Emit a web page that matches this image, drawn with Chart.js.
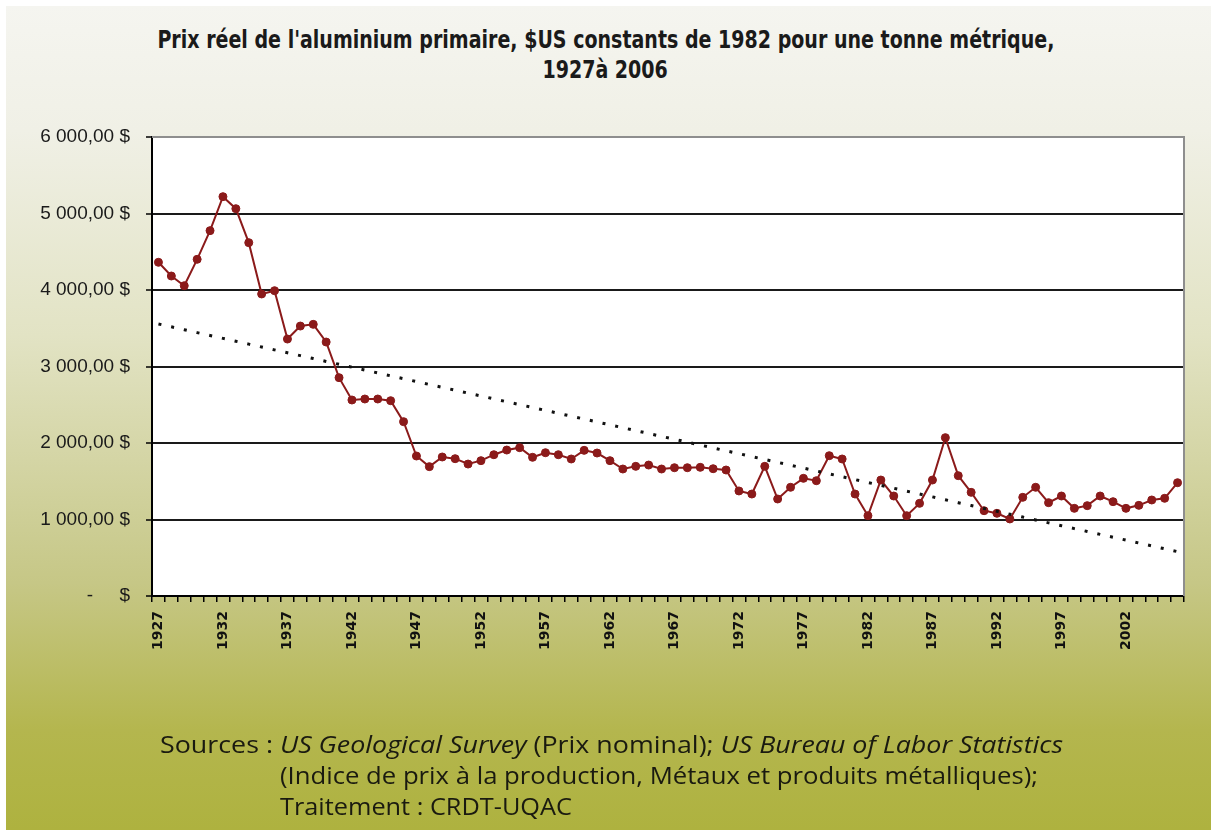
<!DOCTYPE html>
<html>
<head>
<meta charset="utf-8">
<script src="https://cdn.jsdelivr.net/npm/chart.js@4.4.1/dist/chart.umd.min.js"></script>
<style>
  html, body { margin: 0; padding: 0; background: #ffffff; }
  #wrap { position: relative; width: 1211px; height: 830px; overflow: hidden; }
  #bg { position: absolute; left: 6px; top: 6px; width: 1205px; height: 824px;
        background: linear-gradient(to bottom, #f5f5f0 0%, #f0f0e6 15%, #e2e3c4 40%, #c6c786 70%, #b4b64e 88%, #aeb23f 100%); }
  canvas#c { position: absolute; left: 0; top: 0; }
  .title { position: absolute; left: 0; width: 1211px; text-align: center;
           font-family: "Liberation Sans Narrow", "DejaVu Sans Condensed", "Liberation Sans", sans-serif;
           font-weight: bold; font-size: 24px; color: #1a1a1a; line-height: 28px; white-space: nowrap; }
  .title span { display: inline-block; transform-origin: center; }
  .src { position: absolute; font-family: "Open Sans", "Noto Sans", sans-serif; font-size: 23px;
         color: #1a1a10; line-height: 26px; white-space: nowrap; transform-origin: left center; }
</style>
</head>
<body>
<div id="wrap">
  <div id="bg"></div>
  <div class="title" style="top:26px"><span id="t1">Prix réel de l'aluminium primaire, $US constants de 1982 pour une tonne métrique,</span></div>
  <div class="title" style="top:56px"><span id="t2">1927à 2006</span></div>
  <canvas id="c" width="1211" height="830"></canvas>
  <div class="src" id="s1" style="left:160px; top:731px">Sources : <i>US Geological Survey</i> (Prix nominal); <i>US Bureau of Labor Statistics</i></div>
  <div class="src" id="s2" style="left:280px; top:762px">(Indice de prix à la production, Métaux et produits métalliques);</div>
  <div class="src" id="s3" style="left:280px; top:793px">Traitement : CRDT-UQAC</div>
</div>
<script>
// ---- Data ----
const years = [];
for (let y = 1927; y <= 2006; y++) years.push(String(y));

const prices = [
  4362, 4183, 4056, 4401, 4776, 5220, 5063, 4619, 3948, 3991,
  3359, 3529, 3551, 3320, 2854, 2562, 2575, 2575, 2553, 2279,
  1830, 1691, 1817, 1795, 1725, 1769, 1847, 1908, 1939, 1813,
  1873, 1847, 1791, 1904, 1869, 1769, 1660, 1695, 1712, 1660,
  1677, 1677, 1682, 1664, 1647, 1373, 1333, 1695, 1268, 1421,
  1538, 1507, 1834, 1791, 1333, 1050, 1516, 1307, 1050, 1211,
  1516, 2070, 1573, 1355, 1115, 1081, 1007, 1290, 1421, 1220,
  1307, 1146, 1181, 1307, 1233, 1146, 1185, 1255, 1277, 1481
];

const yTicks = [0, 1000, 2000, 3000, 4000, 5000, 6000];
const yTickLabels = ['-     $', '1 000,00 $', '2 000,00 $', '3 000,00 $', '4 000,00 $', '5 000,00 $', '6 000,00 $'];
const labelEvery = 5;

// Linear trend line (least squares over the series, like the spreadsheet trendline)
const n = prices.length;
let sx = 0, sy = 0, sxy = 0, sxx = 0;
prices.forEach((v, i) => { sx += i; sy += v; sxy += i * v; sxx += i * i; });
const slope = (n * sxy - sx * sy) / (n * sxx - sx * sx);
const intercept = (sy - slope * sx) / n;
const trend = prices.map((_, i) => intercept + slope * i);

// ---- Text fitting ----
function fitTo(id, target) {
  const el = document.getElementById(id);
  const w = el.getBoundingClientRect().width;
  return target / w;
}
const k1 = fitTo('t1', 897);
document.getElementById('t1').style.transform = 'scaleX(' + k1 + ')';
document.getElementById('t2').style.transform = 'scaleX(' + k1 + ')';
[['s1', 903], ['s2', 758], ['s3', 292]].forEach(([id, w]) => {
  const k = fitTo(id, w);
  document.getElementById(id).style.transform = 'scaleX(' + k + ')';
});

// ---- Plugin: white plot area + gray frame ----
const frame = {
  id: 'frame',
  beforeDraw(chart) {
    const a = chart.chartArea, ctx = chart.ctx;
    ctx.save();
    ctx.fillStyle = '#ffffff';
    ctx.fillRect(a.left, a.top, a.right - a.left, a.bottom - a.top);
    ctx.restore();
  },
  beforeDatasetsDraw(chart) {
    const a = chart.chartArea, ctx = chart.ctx;
    ctx.save();
    ctx.strokeStyle = '#8e8e8e';
    ctx.lineWidth = 2;
    ctx.beginPath();
    ctx.moveTo(a.left, a.top);
    ctx.lineTo(a.right, a.top);
    ctx.lineTo(a.right, a.bottom);
    ctx.stroke();
    ctx.restore();
  }
};

new Chart(document.getElementById('c'), {
  type: 'line',
  data: {
    labels: years,
    datasets: [
      {
        label: 'Tendance',
        data: trend,
        borderColor: '#111111',
        borderWidth: 3,
        borderDash: [3, 10],
        pointRadius: 0,
        fill: false,
        tension: 0
      },
      {
        label: 'Prix réel',
        data: prices,
        borderColor: '#8b1a1a',
        backgroundColor: '#8b1a1a',
        borderWidth: 2,
        pointRadius: 4,
        pointBackgroundColor: '#8b1a1a',
        pointBorderColor: '#8b1a1a',
        pointBorderWidth: 1,
        fill: false,
        tension: 0
      }
    ]
  },
  options: {
    responsive: false,
    animation: false,
    layout: { padding: { left: 0, top: 137, right: 27, bottom: 0 } },
    plugins: { legend: { display: false }, title: { display: false }, tooltip: { enabled: false } },
    scales: {
      x: {
        type: 'category',
        offset: true,
        afterFit(s) { s.height = 234; },
        grid: { offset: true, drawOnChartArea: false, tickLength: 6, color: '#000000', lineWidth: 1.5 },
        border: { display: true, color: '#000000', width: 2 },
        ticks: {
          autoSkip: false, maxRotation: 90, minRotation: 90, padding: 9,
          color: '#111111',
          font: { family: 'DejaVu Sans', weight: 'bold', size: 14 },
          callback: (v, i) => (i % labelEvery === 0 ? years[i] : '')
        }
      },
      y: {
        min: 0, max: 6000,
        afterFit(s) { s.width = 152; },
        afterBuildTicks(s) { s.ticks = yTicks.map(v => ({ value: v })); },
        grid: {
          color: ctx => (ctx.tick && ctx.tick.value === 6000 ? '#8e8e8e' : '#1a1a1a'),
          lineWidth: 2, tickLength: 6, tickColor: '#000000', tickWidth: 1.5
        },
        border: { display: true, color: '#000000', width: 2 },
        ticks: {
          padding: 16,
          color: '#1a1a1a',
          font: { family: 'Liberation Sans', size: 19 },
          callback: (v) => yTickLabels[yTicks.indexOf(v)]
        }
      }
    }
  },
  plugins: [frame]
});
</script>
</body>
</html>
